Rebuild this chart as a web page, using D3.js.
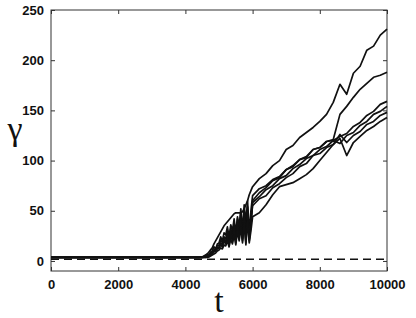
<!DOCTYPE html>
<html>
<head>
<meta charset="utf-8">
<script src="https://cdn.jsdelivr.net/npm/d3@7"></script>
<style>
  body { margin: 0; background: #fff; }
  svg { display: block; }
</style>
</head>
<body>
<div id="chart"></div>
<script>
// tiempos compartidos por todas las series
const tiempos = [0, 4400, 4500,
  4600, 4650, 4700, 4750, 4800, 4850, 4900, 4950, 5000, 5050, 5100, 5150, 5200, 5250, 5300, 5350,
  5400, 5450, 5500, 5550, 5600, 5650, 5700, 5750, 5800, 5850, 5900, 5950, 6000,
  6200, 6400, 6600, 6800, 7000, 7200, 7400, 7600, 7800, 8000, 8200, 8400, 8600, 8800, 9000, 9200, 9400, 9600, 9800, 10000];

// valores de gamma
const serieA = [3.5, 3.5, 4, 6, 7, 9, 11, 13, 17, 20, 23, 26, 29, 32, 35, 37, 39, 41, 43, 45, 47, 48, 48, 48, 48, 49, 52, 56, 60, 66, 70, 74,
  82, 87, 95, 100, 111, 115, 123, 128, 133, 139, 146, 158, 176, 166, 187, 194, 210, 214, 225, 231];
const serieB = [3.5, 3.5, 4, 5, 7, 6, 9, 10, 14, 12, 17, 18, 24, 20, 28, 26, 34, 24, 36, 30, 42, 28, 44, 34, 52, 30, 56, 38, 60, 28, 50, 65,
  72, 75, 81, 84, 91, 94, 101, 103, 111, 113, 119, 121, 146, 154, 163, 171, 177, 183, 185, 188];
const serieC = [3.5, 3.5, 3.5, 4, 5, 6, 8, 9, 11, 12, 15, 16, 21, 18, 24, 22, 30, 20, 32, 26, 38, 24, 42, 30, 48, 28, 50, 24, 54, 22, 40, 60,
  68, 73, 80, 83, 91, 95, 101, 104, 111, 113, 119, 120, 124, 127, 134, 138, 145, 149, 156, 159];
const serieD = [3.5, 3.5, 3.5, 4, 4.5, 5, 7, 8, 10, 11, 13, 14, 18, 16, 22, 19, 26, 18, 30, 22, 34, 20, 38, 26, 42, 22, 46, 20, 50, 20, 36, 58,
  64, 71, 75, 82, 85, 92, 96, 102, 105, 111, 114, 120, 117, 125, 128, 135, 139, 146, 149, 154];
const serieE = [3.5, 3.5, 3.5, 3.5, 4, 4.5, 6, 7, 9, 10, 12, 13, 16, 14, 20, 17, 24, 16, 28, 19, 32, 18, 36, 22, 40, 20, 44, 18, 46, 26, 40, 55,
  62, 65, 73, 77, 83, 87, 94, 97, 105, 107, 113, 116, 126, 118, 125, 129, 136, 139, 145, 148];
const serieF = [3.5, 3.5, 3.5, 3.5, 3.5, 4, 5, 6, 7, 8, 10, 11, 13, 12, 16, 15, 20, 14, 22, 17, 26, 16, 30, 20, 34, 18, 38, 16, 40, 18, 30, 44,
  48, 56, 66, 74, 76, 78, 82, 86, 92, 100, 108, 116, 122, 105, 118, 124, 130, 134, 139, 143];

const series = [serieA, serieB, serieC, serieD, serieE, serieF];

const ticksX = [0, 2000, 4000, 6000, 8000, 10000];
const ticksY = [0, 50, 100, 150, 200, 250];
const nivelUmbral = 1.6;

const margin = { top: 10, right: 29, bottom: 47, left: 51 };
const width = 416 - margin.left - margin.right;
const height = 318 - margin.top - margin.bottom;

const svg = d3.select("#chart")
  .append("svg")
  .attr("width", 416)
  .attr("height", 318)
  .style("background", "#fff")
  .append("g")
  .attr("transform", `translate(${margin.left},${margin.top})`);

const x = d3.scaleLinear().domain([0, 10000]).range([0, width]);
const y = d3.scaleLinear().domain([-10, 250]).range([height, 0]);

// caja del grafico
svg.append("rect")
  .attr("width", width)
  .attr("height", height)
  .attr("fill", "none")
  .attr("stroke", "#333")
  .attr("stroke-width", 1);

// ejes con ticks hacia adentro
const xAxis = d3.axisBottom(x).tickValues(ticksX).tickFormat(d3.format("d"))
  .tickSizeInner(-4).tickSizeOuter(0).tickPadding(9);
const yAxis = d3.axisLeft(y).tickValues(ticksY).tickFormat(d3.format("d"))
  .tickSizeInner(-4).tickSizeOuter(0).tickPadding(7);

svg.append("g").attr("transform", `translate(0,${height})`).call(xAxis);
svg.append("g").call(yAxis);
svg.append("g").call(d3.axisTop(x).tickValues(ticksX).tickSizeInner(-4).tickSizeOuter(0).tickFormat(""));
svg.append("g").attr("transform", `translate(${width},0)`)
  .call(d3.axisRight(y).tickValues(ticksY).tickSizeInner(-4).tickSizeOuter(0).tickFormat(""));

svg.selectAll(".domain").remove();
svg.selectAll(".tick line").attr("stroke", "#333");
svg.selectAll(".tick text")
  .style("font-family", "'Liberation Sans', Arial, sans-serif")
  .style("font-weight", "bold")
  .style("font-size", "13px")
  .attr("fill", "#111");

// linea discontinua
svg.append("line")
  .attr("x1", 0)
  .attr("x2", width)
  .attr("y1", y(nivelUmbral))
  .attr("y2", y(nivelUmbral))
  .attr("stroke", "#111")
  .attr("stroke-width", 1.5)
  .attr("stroke-dasharray", "8,5");

const line = d3.line()
  .x((d, i) => x(tiempos[i]))
  .y(d => y(d));

series.forEach(s => {
  svg.append("path")
    .datum(s)
    .attr("fill", "none")
    .attr("stroke", "#111")
    .attr("stroke-width", 1.7)
    .attr("stroke-linejoin", "round")
    .attr("d", line);
});

// etiquetas de los ejes
svg.append("text")
  .attr("x", width / 2)
  .attr("y", height + 41)
  .attr("text-anchor", "middle")
  .style("font-family", "'Liberation Serif', 'Times New Roman', serif")
  .style("font-size", "34px")
  .attr("fill", "#111")
  .text("t");

svg.append("text")
  .attr("x", -36)
  .attr("y", 130)
  .attr("text-anchor", "middle")
  .style("font-family", "'Liberation Serif', 'Times New Roman', serif")
  .style("font-size", "34px")
  .attr("fill", "#111")
  .text("γ");
</script>
</body>
</html>
